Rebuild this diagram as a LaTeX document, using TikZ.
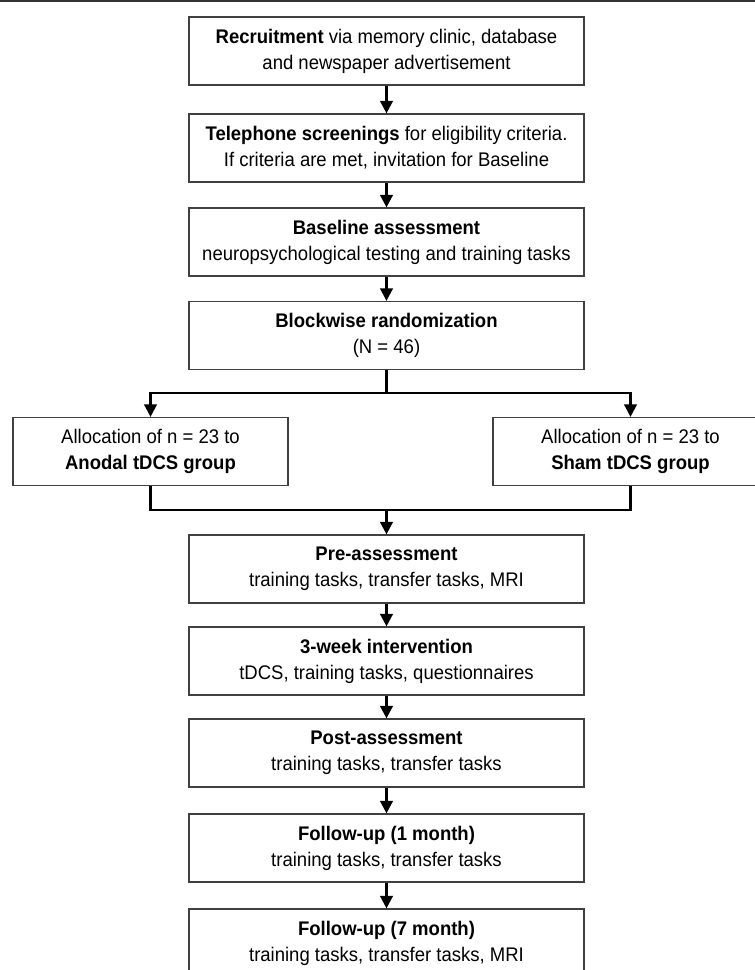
\documentclass[tikz,border=0pt]{standalone}
\usepackage{fontspec}
\setmainfont{Liberation Sans}[FakeStretch=0.94]
\usepackage{tikz}
\usetikzlibrary{arrows.meta}
\definecolor{frame}{RGB}{64,64,64}
\definecolor{rule}{RGB}{51,51,51}
\tikzset{
  stepbox/.style={draw=frame, line width=1.2pt, fill=white, minimum width=395pt,
    minimum height=68pt, inner sep=0pt, align=center,
    font=\fontsize{19.7}{26}\selectfont},
  groupbox/.style={stepbox, minimum width=275pt},
  conn/.style={line width=2.5pt, line join=miter},
  arrow/.style={conn, -{Triangle[width=12.5pt,length=12.5pt]}}
}
\newcommand{\drawconn}{\draw[conn]}
\newcommand{\drawarrow}{\draw[arrow]}

\begin{document}
\begin{tikzpicture}[x=1pt,y=-1pt]
\useasboundingbox (0,0) rectangle (755,970);
\clip (0,0) rectangle (755,970);
\draw[rule, line width=2.5pt] (0,1)--(755,1);
% main column
\node[stepbox] (recruit) at (386.5,51) {\textbf{Recruitment} via memory clinic, database\\and newspaper advertisement};
\node[stepbox] (phone) at (386.5,148) {\textbf{Telephone screenings} for eligibility criteria.\\If criteria are met, invitation for Baseline};
\node[stepbox] (baseline) at (386.5,242) {\textbf{Baseline assessment}\\neuropsychological testing and training tasks};
\node[stepbox] (random) at (386.5,335.5) {\textbf{Blockwise randomization}\\(N = 46)};
% groups
\node[groupbox] (anodal) at (150.5,451.5) {Allocation of n = 23 to\\\textbf{Anodal tDCS group}};
\node[groupbox] (sham) at (630.5,451.5) {Allocation of n = 23 to\\\textbf{Sham tDCS group}};
\coordinate (split) at (386.5,393);
\coordinate (merge) at (386.5,510);
% after allocation
\node[stepbox] (pre) at (386.5,569) {\textbf{Pre-assessment}\\training tasks, transfer tasks, MRI};
\node[stepbox] (interv) at (386.5,661) {\textbf{3-week intervention}\\tDCS, training tasks, questionnaires};
\node[stepbox] (post) at (386.5,753) {\textbf{Post-assessment}\\training tasks, transfer tasks};
\node[stepbox] (follow1) at (386.5,848) {\textbf{Follow-up (1 month)}\\training tasks, transfer tasks};
\node[stepbox] (follow7) at (386.5,943) {\textbf{Follow-up (7 month)}\\training tasks, transfer tasks, MRI};
\drawarrow (recruit)--(phone);
\drawarrow (phone)--(baseline);
\drawarrow (baseline)--(random);
\drawconn (random)--(split);
\drawarrow (split)-|(anodal);
\drawarrow (split)-|(sham);
\drawconn (anodal)|-(merge);
\drawconn (sham)|-(merge);
\drawarrow (merge)--(pre);
\drawarrow (pre)--(interv);
\drawarrow (interv)--(post);
\drawarrow (post)--(follow1);
\drawarrow (follow1)--(follow7);
\end{tikzpicture}
\end{document}
